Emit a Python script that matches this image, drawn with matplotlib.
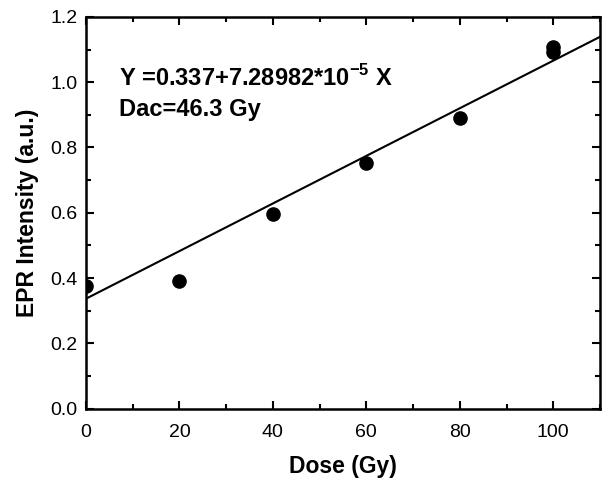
import numpy as np
import matplotlib
matplotlib.use('Agg')
from matplotlib import pyplot as plt
from matplotlib.ticker import MultipleLocator, FormatStrFormatter

plt.rcParams['font.family'] = ['Liberation Sans', 'DejaVu Sans']
plt.rcParams['mathtext.fontset'] = 'custom'
plt.rcParams['mathtext.rm'] = 'Liberation Sans'
plt.rcParams['mathtext.bf'] = 'Liberation Sans:bold'

# data
dose = [0, 20, 40, 60, 80, 100, 100]
intensity = [0.375, 0.39, 0.597, 0.754, 0.89, 1.107, 1.093]

# fit parameters
intercept = 0.337
slope = 7.28982e-3

fig = plt.figure(figsize=(6.03, 4.82), dpi=100)
ax = fig.add_axes([0.1426, 0.152, 0.8524, 0.813])

xl = np.array([0, 110])
ax.plot(xl, intercept + slope * xl, color='black', lw=1.5, zorder=2)
ax.plot(dose, intensity, 'o', color='black', ms=9.5, zorder=3)

ax.set_xlim(0, 110)
ax.set_ylim(0, 1.2)
ax.xaxis.set_major_locator(MultipleLocator(20))
ax.xaxis.set_minor_locator(MultipleLocator(10))
ax.yaxis.set_major_locator(MultipleLocator(0.2))
ax.yaxis.set_minor_locator(MultipleLocator(0.1))
ax.yaxis.set_major_formatter(FormatStrFormatter('%.1f'))

ax.tick_params(which='both', direction='in', top=True, right=True, width=1.5, labelsize=14)
ax.tick_params(which='major', length=6)
ax.tick_params(which='minor', length=3.5)
ax.tick_params(axis='x', pad=11)
ax.tick_params(axis='y', pad=6)
for s in ax.spines.values():
    s.set_linewidth(1.8)

ax.set_xlabel('Dose (Gy)', fontsize=16.5, fontweight='bold', labelpad=10)
ax.set_ylabel('EPR Intensity (a.u.)', fontsize=16.5, fontweight='bold', labelpad=8)

ax.text(7, 0.99, r'Y =0.337+7.28982*10$^{\mathbf{-5}}$ X', fontsize=17, fontweight='bold')
ax.text(7, 0.895, 'Dac=46.3 Gy', fontsize=17, fontweight='bold')

plt.savefig('out.png', dpi=100)
